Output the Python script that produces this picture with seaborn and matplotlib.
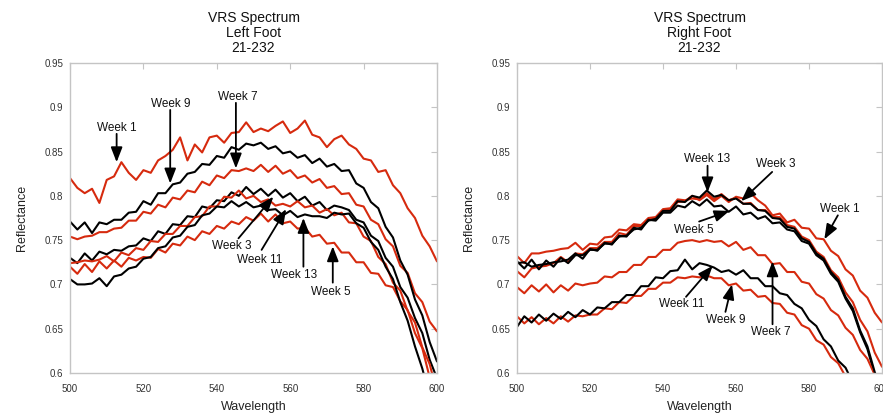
import numpy as np
import pandas as pd
import seaborn as sns
import matplotlib.pyplot as plt

wavelength = list(range(500, 601, 2))
weeks = ['Week 1', 'Week 3', 'Week 5', 'Week 7', 'Week 9', 'Week 11', 'Week 13']

# left foot
left_w1 = [0.820, 0.809, 0.803, 0.808, 0.792, 0.818, 0.822, 0.838, 0.826, 0.818, 0.829, 0.826, 0.840,
           0.845, 0.852, 0.866, 0.840, 0.858, 0.849, 0.866, 0.868, 0.860, 0.871, 0.872, 0.883, 0.872,
           0.876, 0.873, 0.879, 0.884, 0.871, 0.876, 0.885, 0.869, 0.866, 0.855, 0.864, 0.868, 0.858,
           0.853, 0.842, 0.840, 0.827, 0.829, 0.812, 0.803, 0.786, 0.775, 0.755, 0.743, 0.726]
left_w3 = [0.730, 0.724, 0.735, 0.727, 0.737, 0.734, 0.739, 0.738, 0.743, 0.744, 0.752, 0.749, 0.760,
           0.757, 0.768, 0.767, 0.777, 0.776, 0.788, 0.786, 0.795, 0.794, 0.804, 0.800, 0.810, 0.802,
           0.808, 0.800, 0.807, 0.798, 0.803, 0.794, 0.799, 0.789, 0.793, 0.784, 0.789, 0.787, 0.784,
           0.773, 0.770, 0.755, 0.749, 0.730, 0.720, 0.697, 0.685, 0.662, 0.645, 0.615, 0.594]
left_w5 = [0.720, 0.712, 0.723, 0.714, 0.726, 0.718, 0.727, 0.720, 0.730, 0.727, 0.731, 0.730, 0.740,
           0.736, 0.746, 0.744, 0.754, 0.750, 0.760, 0.757, 0.766, 0.763, 0.771, 0.768, 0.776, 0.772,
           0.780, 0.771, 0.779, 0.769, 0.771, 0.763, 0.764, 0.754, 0.756, 0.746, 0.747, 0.736, 0.736,
           0.725, 0.725, 0.713, 0.712, 0.699, 0.697, 0.681, 0.671, 0.645, 0.628, 0.595, 0.572]
left_w7 = [0.754, 0.751, 0.754, 0.755, 0.759, 0.759, 0.763, 0.764, 0.772, 0.772, 0.782, 0.780, 0.790,
           0.787, 0.798, 0.796, 0.806, 0.804, 0.816, 0.812, 0.823, 0.820, 0.829, 0.828, 0.831, 0.828,
           0.835, 0.827, 0.834, 0.825, 0.829, 0.820, 0.823, 0.815, 0.819, 0.809, 0.811, 0.802, 0.803,
           0.790, 0.788, 0.773, 0.768, 0.751, 0.743, 0.721, 0.713, 0.690, 0.680, 0.658, 0.647]
left_w9 = [0.771, 0.762, 0.770, 0.758, 0.770, 0.768, 0.773, 0.773, 0.781, 0.782, 0.794, 0.790, 0.803,
           0.803, 0.813, 0.815, 0.825, 0.827, 0.836, 0.835, 0.845, 0.843, 0.855, 0.852, 0.859, 0.857,
           0.860, 0.853, 0.856, 0.848, 0.850, 0.843, 0.846, 0.837, 0.842, 0.833, 0.836, 0.828, 0.829,
           0.814, 0.809, 0.793, 0.786, 0.765, 0.753, 0.727, 0.711, 0.683, 0.665, 0.635, 0.613]
left_w11 = [0.724, 0.725, 0.727, 0.726, 0.728, 0.732, 0.726, 0.736, 0.733, 0.741, 0.739, 0.749, 0.748,
            0.757, 0.757, 0.766, 0.766, 0.776, 0.777, 0.788, 0.788, 0.799, 0.798, 0.806, 0.797, 0.800,
            0.793, 0.796, 0.789, 0.791, 0.788, 0.794, 0.787, 0.789, 0.781, 0.785, 0.778, 0.781, 0.770,
            0.769, 0.754, 0.749, 0.731, 0.723, 0.702, 0.693, 0.670, 0.657, 0.629, 0.610, 0.578]
left_w13 = [0.706, 0.700, 0.700, 0.701, 0.707, 0.698, 0.709, 0.711, 0.718, 0.720, 0.729, 0.731, 0.741,
            0.743, 0.753, 0.755, 0.765, 0.767, 0.778, 0.780, 0.788, 0.787, 0.794, 0.788, 0.793, 0.787,
            0.789, 0.784, 0.785, 0.778, 0.783, 0.776, 0.779, 0.777, 0.777, 0.775, 0.781, 0.779, 0.780,
            0.769, 0.764, 0.748, 0.739, 0.720, 0.706, 0.680, 0.659, 0.630, 0.605, 0.573, 0.552]

# right foot
right_w1 = [0.715, 0.708, 0.718, 0.720, 0.721, 0.724, 0.731, 0.725, 0.735, 0.734, 0.741, 0.741, 0.748,
            0.748, 0.758, 0.756, 0.766, 0.766, 0.773, 0.775, 0.784, 0.785, 0.793, 0.794, 0.800, 0.795,
            0.801, 0.794, 0.800, 0.793, 0.799, 0.797, 0.803, 0.795, 0.789, 0.778, 0.780, 0.770, 0.773,
            0.764, 0.763, 0.752, 0.751, 0.738, 0.732, 0.717, 0.710, 0.693, 0.685, 0.668, 0.657]
right_w3 = [0.732, 0.724, 0.735, 0.735, 0.737, 0.738, 0.740, 0.741, 0.747, 0.739, 0.746, 0.745, 0.753,
            0.754, 0.762, 0.761, 0.768, 0.767, 0.775, 0.776, 0.785, 0.786, 0.796, 0.795, 0.797, 0.796,
            0.803, 0.796, 0.802, 0.795, 0.798, 0.791, 0.792, 0.784, 0.784, 0.776, 0.776, 0.767, 0.765,
            0.754, 0.750, 0.737, 0.731, 0.716, 0.708, 0.691, 0.680, 0.660, 0.647, 0.623, 0.607]
right_w5 = [0.724, 0.725, 0.720, 0.722, 0.723, 0.725, 0.726, 0.728, 0.735, 0.729, 0.740, 0.738, 0.747,
            0.745, 0.755, 0.754, 0.764, 0.762, 0.773, 0.772, 0.781, 0.781, 0.789, 0.787, 0.794, 0.789,
            0.796, 0.788, 0.789, 0.782, 0.788, 0.779, 0.781, 0.774, 0.777, 0.769, 0.770, 0.762, 0.760,
            0.749, 0.746, 0.733, 0.727, 0.712, 0.703, 0.684, 0.670, 0.646, 0.627, 0.598, 0.577]
right_w7 = [0.697, 0.690, 0.699, 0.692, 0.700, 0.691, 0.699, 0.693, 0.701, 0.699, 0.701, 0.702, 0.709,
            0.708, 0.714, 0.714, 0.722, 0.722, 0.731, 0.731, 0.739, 0.739, 0.747, 0.749, 0.750, 0.748,
            0.750, 0.748, 0.749, 0.743, 0.748, 0.739, 0.742, 0.733, 0.733, 0.723, 0.724, 0.714, 0.714,
            0.703, 0.701, 0.689, 0.684, 0.671, 0.665, 0.651, 0.643, 0.626, 0.616, 0.598, 0.588]
right_w9 = [0.664, 0.656, 0.663, 0.655, 0.662, 0.656, 0.664, 0.658, 0.665, 0.664, 0.666, 0.666, 0.673,
            0.672, 0.680, 0.679, 0.687, 0.687, 0.695, 0.695, 0.702, 0.702, 0.708, 0.707, 0.709, 0.708,
            0.710, 0.707, 0.707, 0.699, 0.701, 0.693, 0.694, 0.686, 0.687, 0.679, 0.678, 0.668, 0.666,
            0.654, 0.650, 0.637, 0.632, 0.618, 0.611, 0.596, 0.588, 0.572, 0.564, 0.548, 0.540]
right_w11 = [0.652, 0.664, 0.657, 0.666, 0.659, 0.667, 0.661, 0.669, 0.663, 0.671, 0.666, 0.674, 0.673,
             0.680, 0.680, 0.688, 0.688, 0.698, 0.698, 0.708, 0.707, 0.715, 0.716, 0.728, 0.717, 0.724,
             0.722, 0.719, 0.714, 0.716, 0.711, 0.716, 0.707, 0.707, 0.698, 0.698, 0.690, 0.688, 0.678,
             0.673, 0.660, 0.653, 0.638, 0.630, 0.614, 0.606, 0.589, 0.580, 0.563, 0.554, 0.538]
right_w13 = [0.726, 0.718, 0.728, 0.717, 0.727, 0.720, 0.730, 0.724, 0.733, 0.733, 0.739, 0.739, 0.746,
             0.746, 0.754, 0.755, 0.762, 0.764, 0.772, 0.774, 0.783, 0.783, 0.794, 0.793, 0.800, 0.798,
             0.806, 0.799, 0.801, 0.795, 0.797, 0.791, 0.791, 0.784, 0.783, 0.775, 0.774, 0.765, 0.763,
             0.752, 0.748, 0.735, 0.729, 0.714, 0.705, 0.686, 0.673, 0.648, 0.630, 0.601, 0.580]

left_series = [left_w1, left_w3, left_w5, left_w7, left_w9, left_w11, left_w13]
right_series = [right_w1, right_w3, right_w5, right_w7, right_w9, right_w11, right_w13]

RED = '#d62a0e'
left_colors = {'Week 1': RED, 'Week 3': 'black', 'Week 5': RED, 'Week 7': RED,
               'Week 9': 'black', 'Week 11': RED, 'Week 13': 'black'}
right_colors = {'Week 1': RED, 'Week 3': RED, 'Week 5': 'black', 'Week 7': RED,
                'Week 9': RED, 'Week 11': 'black', 'Week 13': 'black'}

xticks = [500, 520, 540, 560, 580, 600]
yticks = [0.6, 0.65, 0.7, 0.75, 0.8, 0.85, 0.9, 0.95]
ytick_labels = ['0.6', '0.65', '0.7', '0.75', '0.8', '0.85', '0.9', '0.95']

# (label, text x, text y, arrow start x, y, arrow tip x, y)
left_notes = [
    ('Week 1', 512.7, 0.877, 512.7, 0.870, 512.7, 0.838),
    ('Week 9', 527.5, 0.904, 527.3, 0.897, 527.3, 0.814),
    ('Week 7', 545.6, 0.912, 545.2, 0.905, 545.2, 0.831),
    ('Week 3', 544.2, 0.743, 545.9, 0.752, 555.4, 0.799),
    ('Week 11', 551.8, 0.728, 552.2, 0.739, 558.9, 0.785),
    ('Week 13', 561.1, 0.711, 563.6, 0.720, 563.6, 0.775),
    ('Week 5', 571.1, 0.691, 571.6, 0.702, 571.6, 0.743),
]
right_notes = [
    ('Week 13', 552.0, 0.842, 552.2, 0.834, 552.2, 0.804),
    ('Week 3', 570.8, 0.836, 569.9, 0.827, 561.4, 0.794),
    ('Week 1', 588.5, 0.785, 587.9, 0.778, 584.2, 0.751),
    ('Week 5', 548.4, 0.761, 549.9, 0.771, 558.2, 0.783),
    ('Week 11', 545.2, 0.678, 546.3, 0.686, 553.6, 0.721),
    ('Week 9', 557.1, 0.660, 557.1, 0.669, 558.9, 0.700),
    ('Week 7', 569.6, 0.646, 570.0, 0.655, 570.0, 0.726),
]

sns.set_style('white')
plt.rcParams['font.family'] = ['Liberation Sans', 'DejaVu Sans']

fig = plt.figure(figsize=(8.83, 4.18), dpi=100)
ax_l = fig.add_axes([0.0793, 0.1077, 0.4156, 0.7416])
ax_r = fig.add_axes([0.5855, 0.1077, 0.4134, 0.7416])

panels = [(ax_l, left_series, left_colors, left_notes, 'VRS Spectrum\nLeft Foot\n21-232'),
          (ax_r, right_series, right_colors, right_notes, 'VRS Spectrum\nRight Foot\n21-232')]

for ax, series, colors, notes, title in panels:
    frames = []
    for wk, vals in zip(weeks, series):
        frames.append(pd.DataFrame({'Wavelength': wavelength, 'Reflectance': vals, 'week': wk}))
    df = pd.concat(frames)
    sns.lineplot(data=df, x='Wavelength', y='Reflectance', hue='week', palette=colors,
                 estimator=None, legend=False, linewidth=1.5, ax=ax)
    ax.set_xlim(500, 600)
    ax.set_ylim(0.6, 0.95)
    ax.set_xticks(xticks)
    ax.set_yticks(yticks)
    ax.set_yticklabels(ytick_labels)
    ax.tick_params(direction='in', length=4, color='#c4c4c4', labelsize=7, labelcolor='#333333',
                   top=True, right=True)
    ax.tick_params(axis='y', pad=5)
    ax.tick_params(axis='x', pad=8)
    for s in ax.spines.values():
        s.set_color('#c4c4c4')
        s.set_linewidth(1.0)
    ax.set_xlabel('Wavelength', fontsize=9, labelpad=5, color='#222222')
    ax.set_ylabel('Reflectance', fontsize=9, labelpad=12, color='#222222')
    ax.set_title(title, fontsize=10, linespacing=1.1, pad=8, color='#111111')
    for lab, tx, ty, ax0, ay0, ax1, ay1 in notes:
        ax.text(tx, ty, lab, fontsize=8.5, ha='center', va='center', color='#111111')
        ax.annotate('', xy=(ax1, ay1), xytext=(ax0, ay0),
                    arrowprops=dict(arrowstyle='-|>,head_length=0.9,head_width=0.35',
                                    color='black', lw=1.3, shrinkA=0, shrinkB=0))

fig.savefig('out.png', dpi=100)
